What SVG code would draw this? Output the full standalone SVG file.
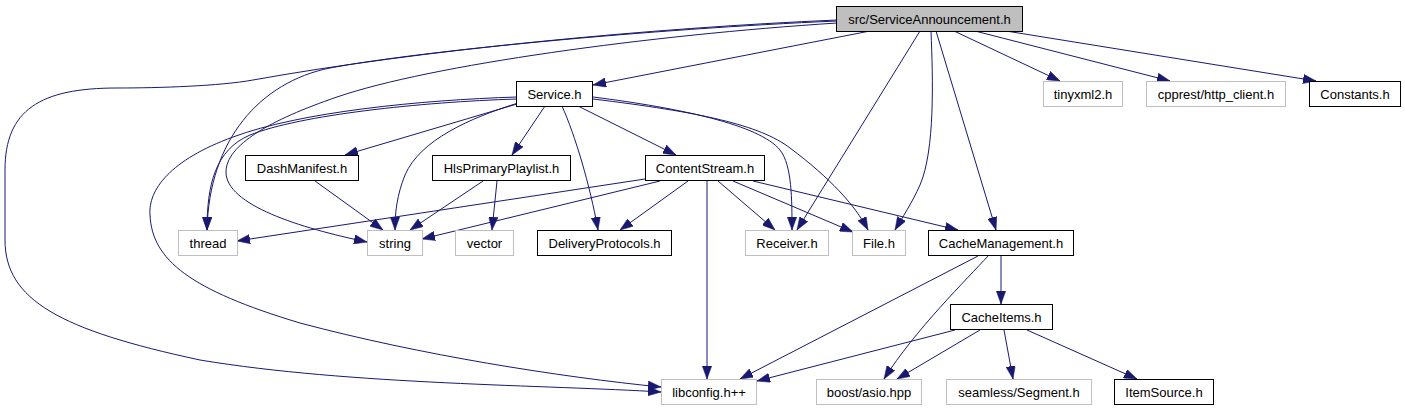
<svg xmlns="http://www.w3.org/2000/svg" width="1405" height="411" viewBox="0 0 1405 411">
<style>
.n rect{fill:#ffffff;stroke:#000000;stroke-width:1}
.x rect{fill:#ffffff;stroke:#bfbfbf;stroke-width:1}
.r rect{fill:#bfbfbf;stroke:#000000;stroke-width:1}
text{font-family:"Liberation Sans",Arial,Helvetica,sans-serif;font-size:13px;fill:#000000;text-anchor:middle}
#edges path{fill:none;stroke:#191970;stroke-width:1;marker-end:url(#arr)}
</style>
<defs>
<marker id="arr" viewBox="0 0 13 9.4" refX="13" refY="4.7" markerWidth="13" markerHeight="9.4" markerUnits="userSpaceOnUse" orient="auto">
<path d="M0,0 L13,4.7 L0,9.4 z" fill="#191970" stroke="#191970" stroke-width="0.5"/>
</marker>
</defs>
<rect x="0" y="0" width="1405" height="411" fill="#ffffff"/>
<g id="edges">
<path d="M870,31 L593,85"/>
<path d="M837,20 C650,28 420,50 253,80 C220,86 160,88 117,88 C40,88 5,110 5,170 L5,240 C5,300 60,330 200,360 C350,385 550,385 661,392"/>
<path d="M837,21 C650,29 420,51 330,68 C260,82 209,140 207,230"/>
<path d="M837,23 C650,35 430,65 337,97 C270,120 226,145 226,172 C226,205 300,228 367,242"/>
<path d="M517,97 C420,100 300,112 233,137 C170,160 148,190 150,215 C152,260 190,290 300,323 C420,355 560,377 661,387"/>
<path d="M517,99 C420,102 300,115 250,135 C215,150 207,185 207,230"/>
<path d="M518,103 C470,118 420,140 405,175 C397,195 395,212 395,230"/>
<path d="M517,104 L345,155"/>
<path d="M545,106 L512,155"/>
<path d="M562,106 C575,135 590,185 598,230"/>
<path d="M578,106 L676,155"/>
<path d="M593,97 C680,108 760,125 780,150 C792,165 792,200 792,230"/>
<path d="M593,99 C700,112 760,125 790,148 C830,178 855,205 868,230"/>
<path d="M920,31 L797,230"/>
<path d="M931,31 C933,80 935,150 920,185 C912,203 902,218 895,230"/>
<path d="M936,31 L996,230"/>
<path d="M954,31 L1060,81"/>
<path d="M975,31 L1170,81"/>
<path d="M1006,31 L1316,81"/>
<path d="M315,181 L383,230"/>
<path d="M483,181 L410,230"/>
<path d="M497,181 L492,230"/>
<path d="M645,179 L237,241"/>
<path d="M660,181 L422,239"/>
<path d="M688,181 L620,230"/>
<path d="M707,181 L707,379"/>
<path d="M718,181 L775,230"/>
<path d="M733,181 L853,232"/>
<path d="M753,181 L958,230"/>
<path d="M1001,255 L1001,304"/>
<path d="M978,256 L740,379"/>
<path d="M988,256 C968,278 915,330 884,379"/>
<path d="M955,330 L757,381"/>
<path d="M980,330 L897,379"/>
<path d="M1004,330 L1013,379"/>
<path d="M1027,330 L1137,379"/>
</g>
<g id="node-root" class="r"><rect x="836.5" y="6.5" width="186" height="25"/><text x="929.5" y="23.5">src/ServiceAnnouncement.h</text></g>
<g id="node-service" class="n"><rect x="516.5" y="81.5" width="76" height="25"/><text x="554.5" y="98.5">Service.h</text></g>
<g id="node-tinyxml2" class="x"><rect x="1043.5" y="81.5" width="79" height="25"/><text x="1083" y="98.5">tinyxml2.h</text></g>
<g id="node-cpprest" class="x"><rect x="1146.5" y="81.5" width="139" height="25"/><text x="1216" y="98.5">cpprest/http_client.h</text></g>
<g id="node-constants" class="n"><rect x="1309.5" y="81.5" width="91" height="25"/><text x="1355" y="98.5">Constants.h</text></g>
<g id="node-dash" class="n"><rect x="245.5" y="155.5" width="113" height="25"/><text x="302" y="172.5">DashManifest.h</text></g>
<g id="node-hls" class="n"><rect x="432.5" y="155.5" width="138" height="25"/><text x="501.5" y="172.5">HlsPrimaryPlaylist.h</text></g>
<g id="node-contentstream" class="n"><rect x="645.5" y="155.5" width="119" height="25"/><text x="705" y="172.5">ContentStream.h</text></g>
<g id="node-thread" class="x"><rect x="178.5" y="230.5" width="59" height="25"/><text x="208" y="247.5">thread</text></g>
<g id="node-string" class="x"><rect x="367.5" y="230.5" width="55" height="25"/><text x="395" y="247.5">string</text></g>
<g id="node-vector" class="x"><rect x="455.5" y="230.5" width="58" height="25"/><text x="484.5" y="247.5">vector</text></g>
<g id="node-delivery" class="n"><rect x="537.5" y="230.5" width="134" height="25"/><text x="604.5" y="247.5">DeliveryProtocols.h</text></g>
<g id="node-receiver" class="x"><rect x="745.5" y="230.5" width="83" height="25"/><text x="787" y="247.5">Receiver.h</text></g>
<g id="node-file" class="x"><rect x="852.5" y="230.5" width="53" height="25"/><text x="879" y="247.5">File.h</text></g>
<g id="node-cachemanagement" class="n"><rect x="928.5" y="230.5" width="145" height="25"/><text x="1001" y="247.5">CacheManagement.h</text></g>
<g id="node-cacheitems" class="n"><rect x="950.5" y="304.5" width="102" height="25"/><text x="1001.5" y="321.5">CacheItems.h</text></g>
<g id="node-libconfig" class="x"><rect x="661.5" y="379.5" width="95" height="25"/><text x="709" y="396.5">libconfig.h++</text></g>
<g id="node-boost" class="x"><rect x="816.5" y="379.5" width="105" height="25"/><text x="869" y="396.5">boost/asio.hpp</text></g>
<g id="node-seamless" class="x"><rect x="946.5" y="379.5" width="145" height="25"/><text x="1019" y="396.5">seamless/Segment.h</text></g>
<g id="node-itemsource" class="n"><rect x="1114.5" y="379.5" width="99" height="25"/><text x="1164" y="396.5">ItemSource.h</text></g>
</svg>
